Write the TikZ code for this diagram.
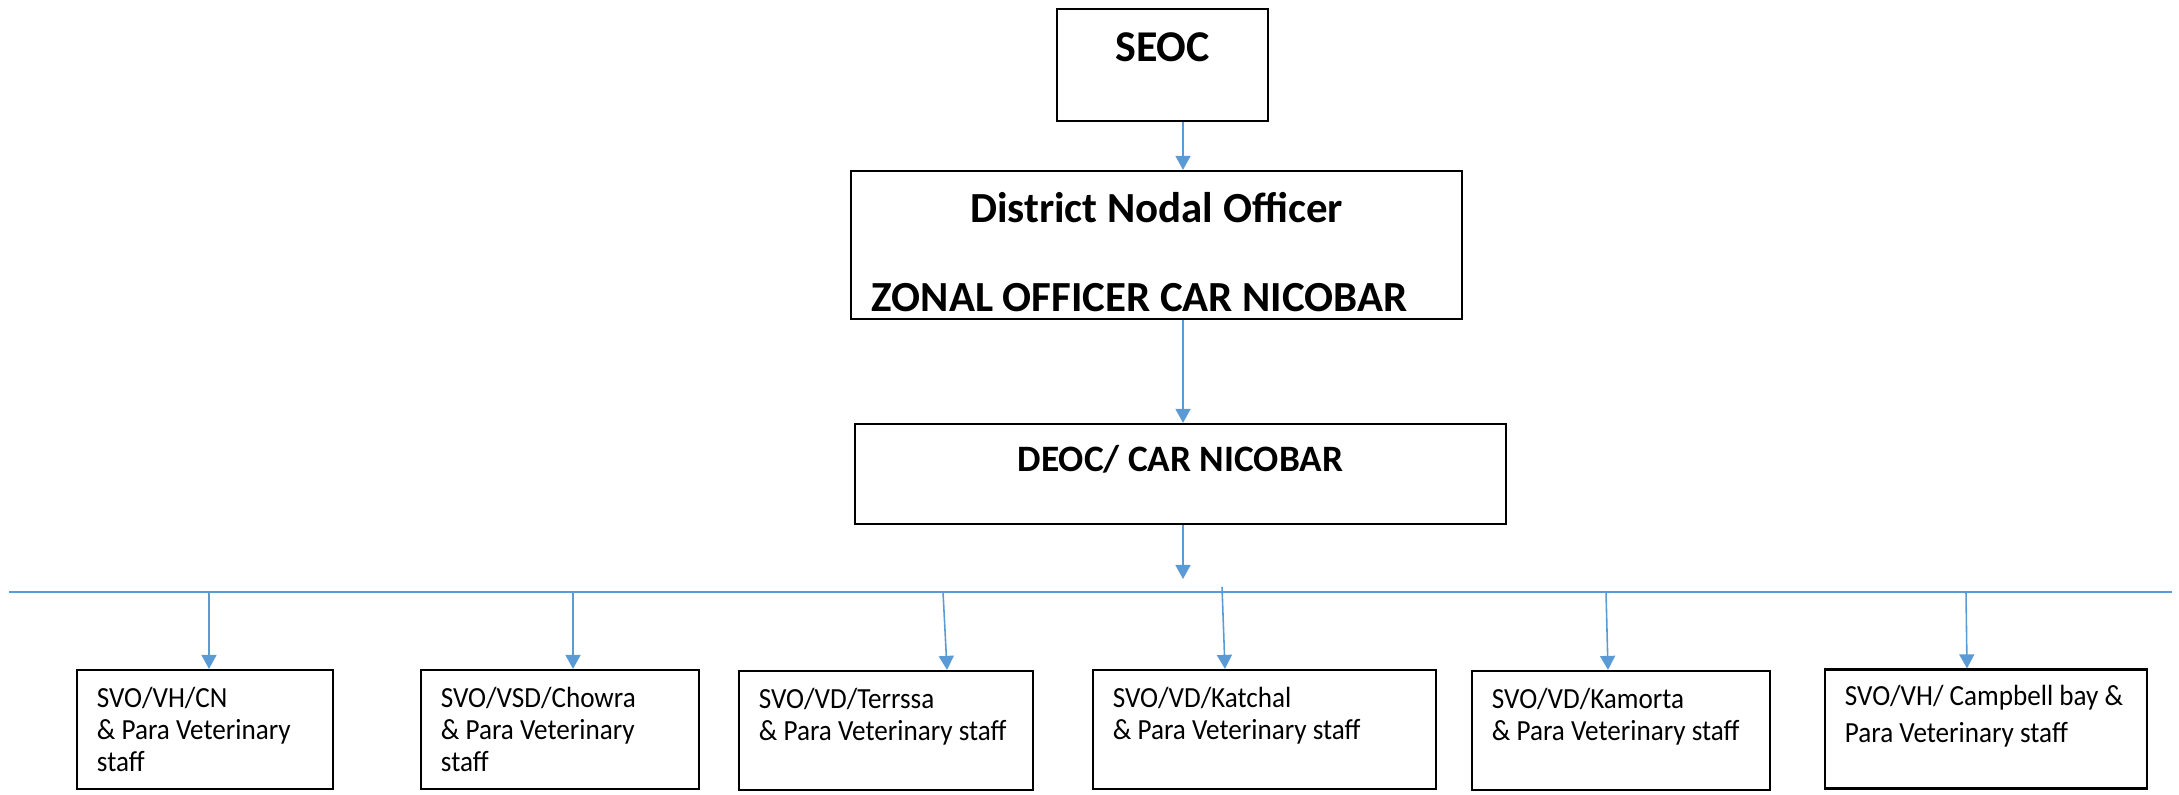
\documentclass[tikz,border=0pt]{standalone}
\usepackage{fontspec}
\setmainfont{Carlito}
\newfontfamily\unitfont{Carlito}[FakeStretch=0.93]
\usepackage{tikz}
\usetikzlibrary{arrows.meta}
\definecolor{linkblue}{RGB}{91,155,213}

\begin{document}
\begin{tikzpicture}[
  x=0.01cm, y=-0.01cm,
  >={Triangle[width=0.15cm,length=0.14cm]},
  head/.style={draw,line width=0.6pt,inner sep=0,font=\fontsize{12.2}{13.5}\selectfont\bfseries},
  unit/.style={draw,line width=0.6pt,align=flush left,inner xsep=0.2cm,inner ysep=0,minimum height=1.19cm,text height=0.21cm,text depth=0.64cm,font=\unitfont\fontsize{8.3}{9.1}\selectfont},
  link/.style={->,draw=linkblue,line width=0.45pt}
  ]
  \useasboundingbox (0,0) rectangle (2179,795);

  \node [head,minimum width=2.11cm,minimum height=1.12cm,text height=0.28cm,text depth=0.34cm,
    font=\fontsize{12.5}{14}\selectfont\bfseries] (seoc) at (1162.5,65) {SEOC};
  \node [head,minimum width=6.11cm,minimum height=1.48cm,align=flush left,inner xsep=0.21cm,text width=5.69cm,
    text height=0.30cm,text depth=0.74cm] (dno) at (1156.5,245)
    {\makebox[\linewidth]{District Nodal Officer}\\[0.41cm]ZONAL OFFICER CAR NICOBAR};
  \node [head,minimum width=6.51cm,minimum height=1.00cm,text height=0.26cm,text depth=0.30cm,
    font=\fontsize{10.6}{12}\selectfont\bfseries] (deoc) at (1180.5,474) {DEOC/ CAR NICOBAR};

  \coordinate (spine) at (1183,0);
  \coordinate (hub) at (1183,579);
  \coordinate (busL) at (9,592);
  \coordinate (busR) at (2172,592);

  \draw[link] (seoc.south -| spine) -- (dno.north -| spine);
  \draw[link] (dno.south -| spine) -- (deoc.north -| spine);
  \draw[link] (deoc.south -| spine) -- (hub);
  \draw[draw=linkblue,line width=0.45pt] (busL) -- (busR);

  \node [unit,minimum width=2.56cm,text width=2.16cm] (svocn) at (205,729.5) {SVO/VH/CN\\\& Para Veterinary\\staff};
  \node [unit,minimum width=2.78cm,text width=2.38cm] (chowra) at (560,729.5) {SVO/VSD/Chowra\\\& Para Veterinary\\staff};
  \node [unit,minimum width=2.94cm,text width=2.54cm] (terrssa) at (886,730.5) {SVO/VD/Terrssa\\\& Para Veterinary staff};
  \node [unit,minimum width=3.43cm,text width=3.03cm] (katchal) at (1264.5,729.5) {SVO/VD/Katchal\\\& Para Veterinary staff};
  \node [unit,minimum width=2.98cm,text width=2.58cm] (kamorta) at (1621,730.5) {SVO/VD/Kamorta\\\& Para Veterinary staff};
  \node [unit,minimum width=3.22cm,text width=2.82cm,text depth=0.67cm,font=\unitfont\fontsize{8.3}{10.5}\selectfont] (campbell) at (1986,729) {SVO/VH/ Campbell bay \&\\Para Veterinary staff};

  \coordinate (b1) at (209,592);
  \coordinate (b2) at (573,592);
  \coordinate (b3) at (943,592);
  \coordinate (b4) at (1222,587);
  \coordinate (b5) at (1606,592);
  \coordinate (b6) at (1966,593);

  \draw[link] (b1) -- ([xshift=0.04cm]svocn.north);
  \draw[link] (b2) -- ([xshift=0.13cm]chowra.north);
  \draw[link] (b3) -- ([xshift=0.61cm]terrssa.north);
  \draw[link] (b4) -- ([xshift=-0.395cm]katchal.north);
  \draw[link] (b5) -- ([xshift=-0.13cm]kamorta.north);
  \draw[link] (b6) -- ([xshift=-0.19cm]campbell.north);

\end{tikzpicture}
\end{document}
